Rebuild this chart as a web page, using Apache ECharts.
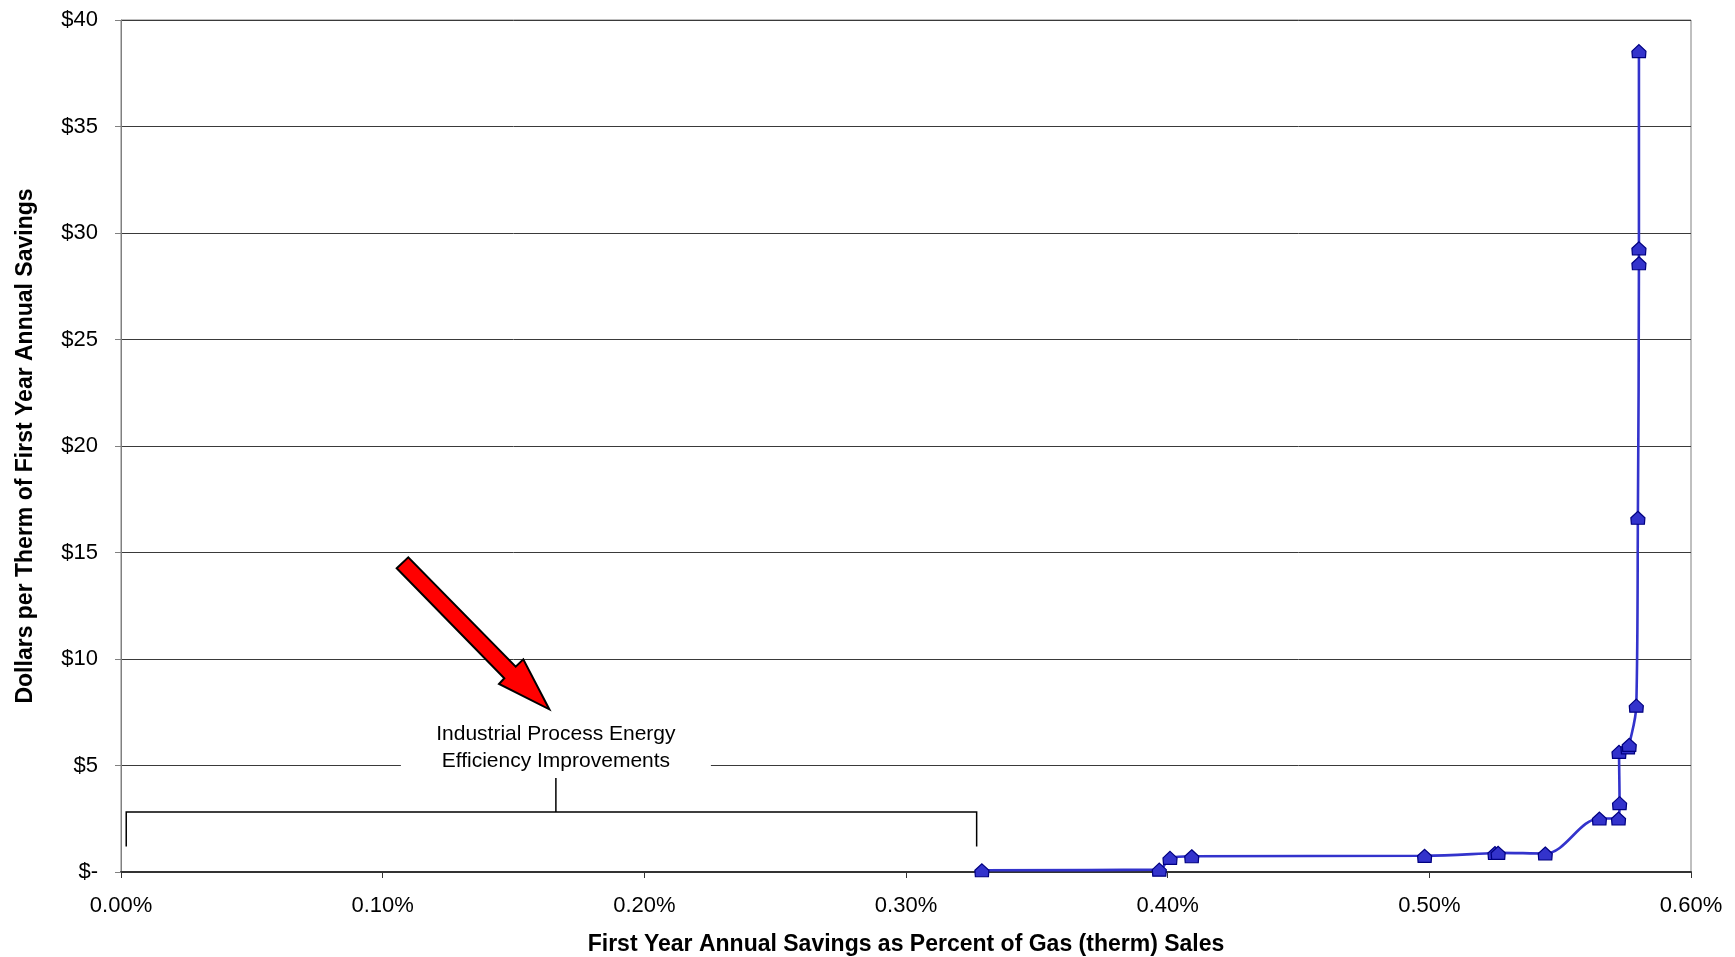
<!DOCTYPE html>
<html>
<head>
<meta charset="utf-8">
<script src="https://cdn.jsdelivr.net/npm/echarts@6/dist/echarts.min.js"></script>
<style>
  html, body { margin: 0; padding: 0; background: #fff; }
  #chart { width: 1735px; height: 957px; }
</style>
</head>
<body>
<div id="chart"></div>
<script>
// Supply curve: cumulative first-year savings (% of gas sales) vs. cost per therm
const savingsPct = [0.3290, 0.3968, 0.4009, 0.4092, 0.4982, 0.5251, 0.5263, 0.5443, 0.5650,
                    0.5723, 0.5727, 0.5725, 0.5759, 0.5764, 0.5791, 0.5797, 0.5801, 0.5801, 0.5801];
const costPerTherm = [0.08, 0.11, 0.66, 0.74, 0.76, 0.89, 0.90, 0.87, 2.51,
                      2.51, 3.23, 5.64, 5.85, 5.97, 7.81, 16.63, 28.58, 29.28, 38.54];

const xAxisTitle = 'First Year Annual Savings as Percent of Gas (therm) Sales';
const yAxisTitle = 'Dollars per Therm of First Year Annual Savings';
const noteLines = ['Industrial Process Energy', 'Efficiency Improvements'];

const FONT = '"Liberation Sans", Arial, sans-serif';

const chart = echarts.init(document.getElementById('chart'), null, { renderer: 'canvas' });

const points = savingsPct.map((x, i) => [x, costPerTherm[i]]);

chart.setOption({
  animation: false,
  backgroundColor: '#ffffff',
  grid: {
    left: 121, right: 44, top: 20, bottom: 85,
    outerBoundsMode: 'none',
    show: true, borderColor: '#808080', borderWidth: 1, backgroundColor: 'transparent'
  },
  xAxis: {
    type: 'value', min: 0, max: 0.6, interval: 0.1,
    name: xAxisTitle, nameLocation: 'middle', nameGap: 61,
    nameTextStyle: { fontFamily: FONT, fontSize: 23, fontWeight: 'bold', color: '#000' },
    axisLine: { show: true, lineStyle: { color: '#333', width: 2 } },
    axisTick: { show: true, inside: false, length: 6, lineStyle: { color: '#333' } },
    axisLabel: {
      fontFamily: FONT, fontSize: 22, color: '#000', margin: 23,
      formatter: v => v.toFixed(2) + '%'
    },
    splitLine: { show: false }
  },
  yAxis: {
    type: 'value', min: 0, max: 40, interval: 5,
    name: yAxisTitle, nameLocation: 'middle', nameGap: 84, nameRotate: 90,
    nameTextStyle: { fontFamily: FONT, fontSize: 23, fontWeight: 'bold', color: '#000' },
    axisLine: { show: true, lineStyle: { color: '#808080', width: 1 } },
    axisTick: { show: true, inside: false, length: 6, lineStyle: { color: '#808080' } },
    axisLabel: {
      fontFamily: FONT, fontSize: 22, color: '#000', margin: 23,
      formatter: v => (v === 0 ? '$-' : '$' + v)
    },
    splitLine: { show: true, lineStyle: { color: '#3a3a3a', width: 1 } }
  },
  series: [{
    type: 'line',
    data: points,
    smooth: 0.35,
    symbol: 'path://M7,0 L14,6.5 L13.5,13 L0.5,13 L0,6.5 Z',
    symbolSize: [14, 13],
    itemStyle: { color: '#3333cc', borderColor: '#000080', borderWidth: 1.2 },
    lineStyle: { color: '#3333cc', width: 2.6 },
    z: 5
  }]
});

// Bracket and callout drawn over the plot, anchored in data units
const bracket = { x0: 0.002, x1: 0.327, xMid: 0.1662, y: 2.82, yEnd: 1.2, yStem: 4.41 };
const noteAt = { x: 0.1662, y: 5.85 };

function px(x, y) { return chart.convertToPixel({ gridIndex: 0 }, [x, y]); }

const pL = px(bracket.x0, bracket.y), pR = px(bracket.x1, bracket.y);
const pLe = px(bracket.x0, bracket.yEnd), pRe = px(bracket.x1, bracket.yEnd);
const pM = px(bracket.xMid, bracket.y), pMs = px(bracket.xMid, bracket.yStem);
const pN = px(noteAt.x, noteAt.y);

const lineStyle = { stroke: '#000', lineWidth: 1.5 };

chart.setOption({
  graphic: [
    {
      type: 'polyline', z: 20, silent: true,
      shape: { points: [pLe, pL, pR, pRe] },
      style: Object.assign({ fill: null }, lineStyle)
    },
    {
      type: 'line', z: 20, silent: true,
      shape: { x1: pM[0], y1: pM[1], x2: pMs[0], y2: pMs[1] },
      style: lineStyle
    },
    {
      type: 'rect', z: 19, silent: true,
      shape: { x: pN[0] - 155, y: pN[1] - 28, width: 310, height: 58 },
      style: { fill: '#fff' }
    },
    {
      type: 'text', z: 21, silent: true,
      x: pN[0], y: pN[1],
      style: {
        text: noteLines.join('\n'),
        fontFamily: FONT, fontSize: 21, lineHeight: 27,
        fill: '#000', align: 'center', verticalAlign: 'middle'
      }
    },
    {
      // red callout arrow pointing at the label
      type: 'polygon', z: 22, silent: true,
      shape: {
        points: [
          [396.7, 568.3], [408.3, 557.3], [515.7, 666.7], [523.3, 659.3],
          [549.3, 709.3], [499.0, 684.0], [504.3, 678.3]
        ]
      },
      style: { fill: '#ff0000', stroke: '#000', lineWidth: 2, lineJoin: 'miter' }
    }
  ]
});
</script>
</body>
</html>
